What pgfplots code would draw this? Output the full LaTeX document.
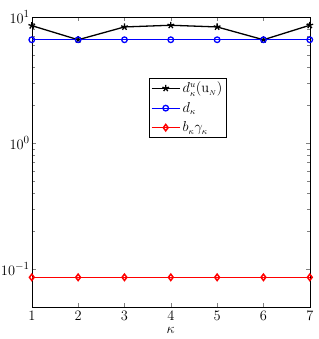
\documentclass[border=0pt]{standalone}
\usepackage{pgfplots}
\pgfplotsset{compat=1.18}
\begin{document}
\begin{tikzpicture}
\begin{axis}[
  scale only axis,
  width=278pt, height=290pt,
  ymode=log,
  xmin=1, xmax=7, ymin=0.05, ymax=10,
  xtick={1,2,3,4,5,6,7},
  ytick={0.1,1,10},
  tick align=inside,
  xlabel={$\kappa$},
  xlabel style={font=\fontsize{15}{17}\selectfont, inner sep=0pt, yshift=-6pt},
  tick label style={font=\fontsize{15.5}{17}\selectfont},
  yticklabel style={inner sep=1pt, xshift=-1pt},
  xticklabel style={inner sep=1pt, yshift=-3pt},
  legend style={at={(0.42,0.79)}, anchor=north west, draw=black, font=\fontsize{13.5}{16}\selectfont, row sep=4pt, inner sep=2pt},
  legend cell align=left,
  legend image code/.code={\draw[mark repeat=2,mark phase=2] plot coordinates {(0cm,0cm) (0.5cm,0cm) (1cm,0cm)};},
  clip=false,
]
\addplot[black, line width=1.3pt, mark=star, mark size=3.5pt, mark options={solid, line width=1.3pt}] coordinates {
(1,8.54) (2,6.6) (3,8.34) (4,8.6) (5,8.34) (6,6.6) (7,8.6)};
\addlegendentry{$d^{u}_{\kappa}(\mathrm{u}_{\scriptscriptstyle N})$}
\addplot[blue, line width=1.3pt, mark=o, mark size=2.8pt, mark options={line width=1.3pt}] coordinates {
(1,6.6) (2,6.6) (3,6.6) (4,6.6) (5,6.6) (6,6.6) (7,6.6)};
\addlegendentry{$d_{\kappa}$}
\addplot[red, line width=1.5pt, mark=diamond, mark size=3.2pt, mark options={line width=1.5pt}] coordinates {
(1,0.086) (2,0.086) (3,0.086) (4,0.086) (5,0.086) (6,0.086) (7,0.086)};
\addlegendentry{$b_{\kappa}\gamma_{\kappa}$}
\coordinate (ll) at (rel axis cs:0,0);
\coordinate (ur) at (rel axis cs:1,1);
\end{axis}
\path (ll) ++(-31pt,-32pt) coordinate (a);
\path (ur) ++(9pt,17pt) coordinate (b);
\path (a) rectangle (b);
\end{tikzpicture}
\end{document}
